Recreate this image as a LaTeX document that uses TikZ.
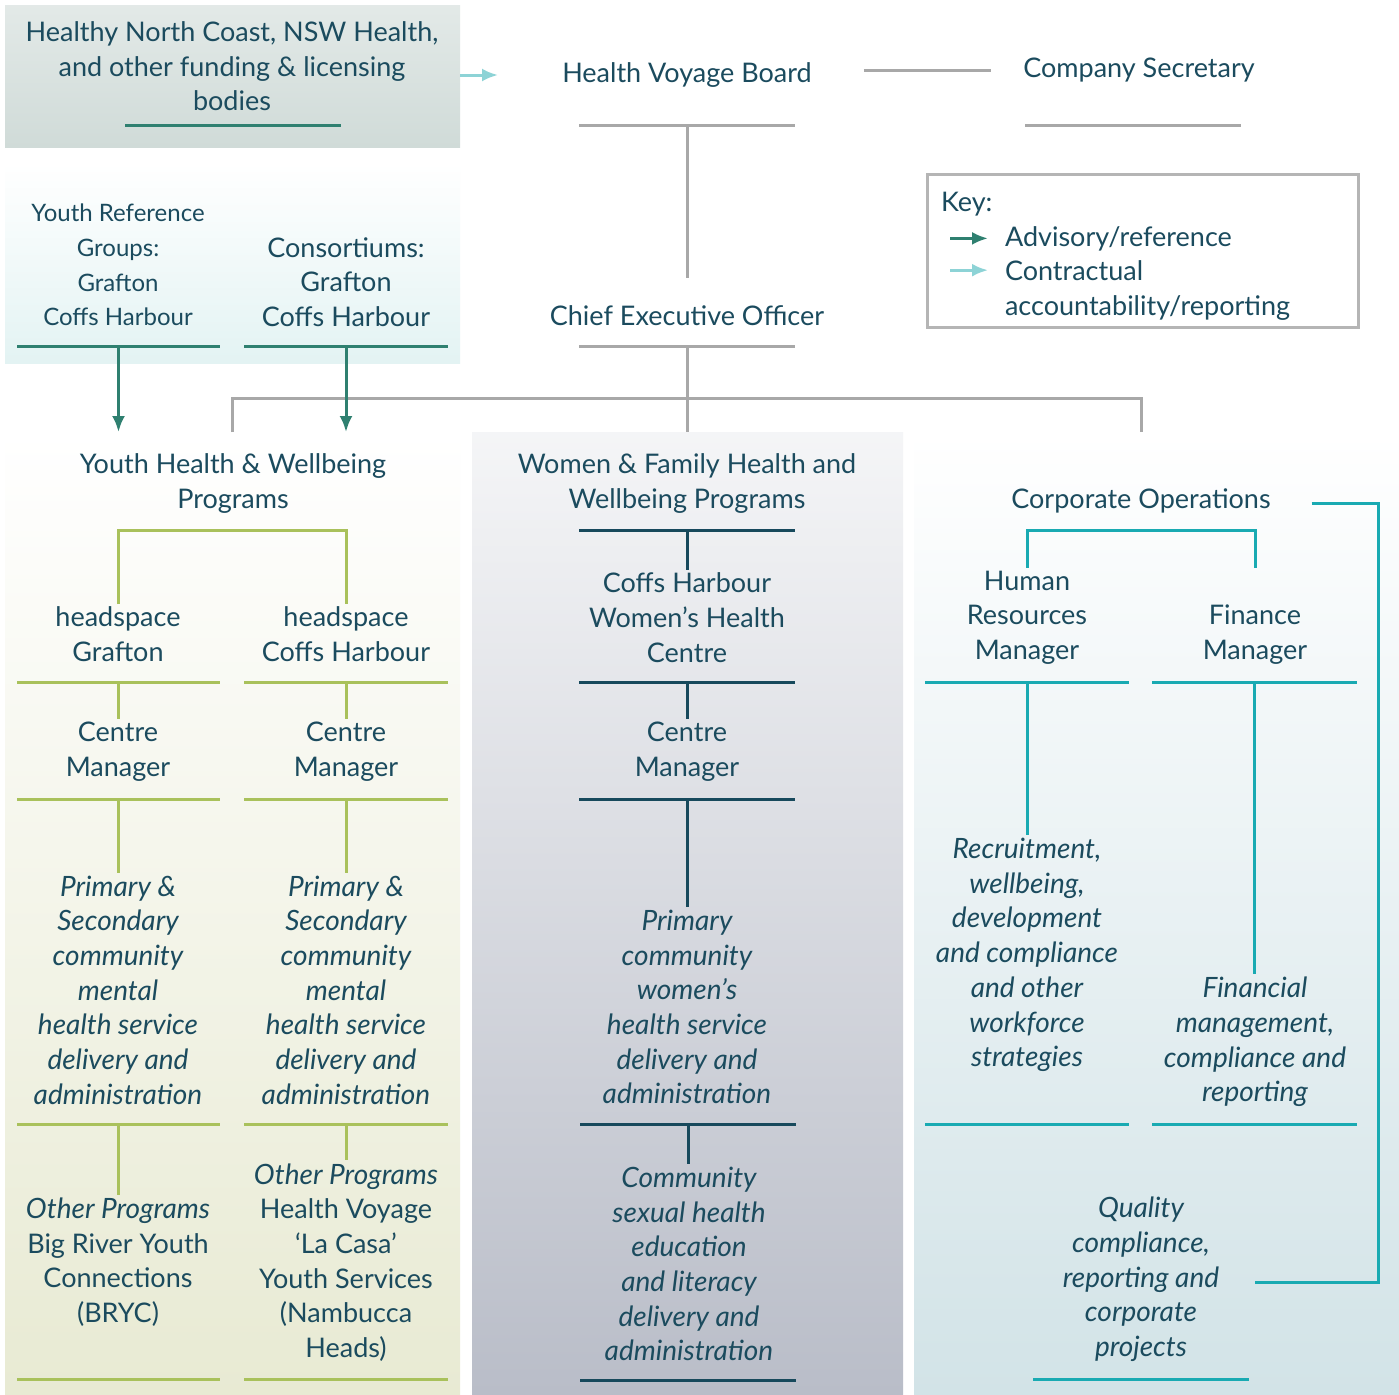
\documentclass[tikz,border=0pt]{standalone}
\usepackage{fontspec}
\setmainfont{Lato}
\usepackage{tikz}
\usetikzlibrary{arrows.meta}

\definecolor{ink}{HTML}{1B4B5E}
\definecolor{advc}{HTML}{2F8070}
\definecolor{conc}{HTML}{8DD3D6}
\definecolor{orgc}{HTML}{A8A8A8}
\definecolor{ythc}{HTML}{A9C15B}
\definecolor{wmnc}{HTML}{17495C}
\definecolor{corpc}{HTML}{19AAB2}
\definecolor{keyc}{HTML}{B5B5B5}
\definecolor{fundbg}{HTML}{D0DBD8}
\definecolor{refbg}{HTML}{E3F3F3}
\definecolor{ythbg}{HTML}{E8EAD3}
\definecolor{wmnbg}{HTML}{B9BDC8}
\definecolor{corpbg}{HTML}{D2E3E7}

\begin{document}
\begin{tikzpicture}[x=0.5pt,y=-0.5pt,
  every node/.style={font=\fontsize{13.5}{17.35}\selectfont, text=ink, align=center, inner sep=1.5pt, outer sep=0pt},
  panel/.style={inner sep=0pt, draw=none},
  small/.style={font=\fontsize{12}{17.35}\selectfont},
  it/.style={font=\fontsize{14}{17.35}\selectfont\itshape},
  rl/.style={line width=1.5pt},
  adv/.style={line width=1.5pt, draw=advc, -{Latex[length=8pt,width=6.5pt]}},
  contr/.style={line width=1.5pt, draw=conc, -{Latex[length=8pt,width=6.5pt]}}]
\useasboundingbox[fill=white] (0,0) rectangle (1399,1394);

% panels
\node[panel, top color=white!40!fundbg, bottom color=fundbg, minimum width=227.5pt, minimum height=71pt] (fundbox) at (232.5,76) {};
\node[panel, top color=white, bottom color=refbg, minimum width=227.5pt, minimum height=100pt] (refbox) at (232.5,263) {};
\node[panel, top color=white, bottom color=ythbg, minimum width=227.5pt, minimum height=481pt] (yprog) at (232.5,913) {};
\node[panel, top color=white!85!wmnbg, bottom color=wmnbg, minimum width=215.5pt, minimum height=481pt] (wprog) at (687.5,913) {};
\node[panel, top color=white, bottom color=corpbg, minimum width=242.5pt, minimum height=481pt] (cprog) at (1156.5,913) {};
\node[draw=keyc, line width=1.5pt, minimum width=215.5pt, minimum height=76.5pt] (keybox) at (1142.5,250.5) {};

% top
\node (fund) at (232,66.3) {Healthy North Coast, NSW Health,\\and other funding \& licensing\\bodies};
\node (hvb) at (687,75) {Health Voyage Board};
\node (cs) at (1139,70) {Company Secretary};
\node (ceo) at (687,316) {Chief Executive Officer};
\node[small] (yrg) at (118,265) {Youth Reference\\Groups:\\Grafton\\Coffs Harbour};
\node (cons) at (346,282) {Consortiums:\\Grafton\\Coffs Harbour};

% key
\node[anchor=base west] (key) at (938,211) {Key:};
\node[anchor=base west] (kadv) at (1002,246) {Advisory/reference};
\node[anchor=base west] (kcon) at (1002,280) {Contractual};
\node[anchor=base west] (kacc) at (1002,315) {accountability/reporting};
\draw[adv] ([xshift=-26pt]kadv.west) -- ([xshift=-7pt]kadv.west);
\draw[contr] ([xshift=-26pt]kcon.west) -- ([xshift=-7pt]kcon.west);

% youth
\node (yhw) at (233,483.5) {Youth Health \& Wellbeing\\Programs};
\node (hsg) at (118,634.5) {headspace\\Grafton};
\node (hsc) at (346,634.5) {headspace\\Coffs Harbour};
\node (ycm1) at (118,751.5) {Centre\\Manager};
\node (ycm2) at (346,751.5) {Centre\\Manager};
\node[it] (ysv1) at (118,990) {Primary \&\\Secondary\\community\\mental\\health service\\delivery and\\administration};
\node[it] (ysv2) at (346,990) {Primary \&\\Secondary\\community\\mental\\health service\\delivery and\\administration};
\node (yop1) at (118,1262) {\textit{\fontsize{14}{17.35}\selectfont Other Programs}\\Big River Youth\\Connections\\(BRYC)};
\node (yop2) at (346,1262.5) {\textit{\fontsize{14}{17.35}\selectfont Other Programs}\\Health Voyage\\‘La Casa’\\Youth Services\\(Nambucca\\Heads)};

% women
\node (wfh) at (687,483.5) {Women \& Family Health and\\Wellbeing Programs};
\node (wch) at (687,617.5) {Coffs Harbour\\Women’s Health\\Centre};
\node (wcm) at (687,751.5) {Centre\\Manager};
\node[it] (wps) at (687,1007) {Primary\\community\\women’s\\health service\\delivery and\\administration};
\node[it] (wsh) at (689,1264) {Community\\sexual health\\education\\and literacy\\delivery and\\administration};

% corporate
\node (cops) at (1141,501) {Corporate Operations};
\node (hrm) at (1027,617.5) {Human\\Resources\\Manager};
\node (fin) at (1255,634.5) {Finance\\Manager};
\node[it] (hrs) at (1027,955) {Recruitment,\\wellbeing,\\development\\and compliance\\and other\\workforce\\strategies};
\node[it] (fms) at (1255,1042) {Financial\\management,\\compliance and\\reporting};
\node[it] (qual) at (1141,1279.5) {Quality\\compliance,\\reporting and\\corporate\\projects};

% rules under the boxes
\foreach \n/\a/\b/\y/\c in {fund/125/341/125/advc, hvb/579/795/125/orgc, cs/1025/1241/125/orgc,
  ceo/579/795/346/orgc, yrg/17/220/346/advc, cons/244/448/346/advc,
  hsg/17/220/682/ythc, hsc/244/448/682/ythc, ycm1/17/220/799/ythc, ycm2/244/448/799/ythc,
  ysv1/17/220/1124/ythc, ysv2/244/448/1124/ythc, yop1/17/220/1379/ythc, yop2/244/448/1379/ythc,
  wfh/579/795/530/wmnc, wch/579/795/682/wmnc, wcm/579/795/799/wmnc, wps/580/796/1124/wmnc, wsh/580/796/1380/wmnc,
  hrm/925/1129/682/corpc, fin/1152/1357/682/corpc, hrs/925/1129/1124/corpc, fms/1152/1357/1124/corpc,
  qual/1033/1249/1379/corpc}
{
  \draw[rl, draw=\c] (\a,\y) -- (\b,\y);
  \coordinate (\n-r) at ({(\a+\b)/2},\y);
}

% connectors
\coordinate (hvb-in) at (498,75);
\draw[contr] (fundbox.east |- hvb-in) -- (hvb-in);
\draw[rl, orgc, shorten <=24.5pt, shorten >=14.5pt] (hvb.east |- cs) -- (cs.west);
\draw[rl, orgc, shorten >=12.5pt] (hvb-r) -- (hvb-r |- ceo.north);
\coordinate (jn) at (687,398);
\draw[rl, orgc] (ceo-r) -- (ceo-r |- wprog.north);
\draw[rl, orgc] (yprog.north) |- (jn) -| (cops |- cprog.north);
\draw[adv] (yrg-r) -- (yrg-r |- yprog.north);
\draw[adv] (cons-r) -- (cons-r |- yprog.north);

\coordinate (yb) at (233,530);
\draw[rl, ythc] (hsg.north) |- (yb) -| (hsc.north);
\coordinate (cb) at (1141,530);
\draw[rl, corpc] (hrm.north) |- (cb) -| (fin.north |- hrm.north);

\foreach \a/\b/\c in {hsg/ycm1/ythc, hsc/ycm2/ythc, ycm1/ysv1/ythc, ycm2/ysv2/ythc,
  ysv1/yop1/ythc, ysv2/yop2/ythc, wfh/wch/wmnc, wch/wcm/wmnc, wcm/wps/wmnc, wps/wsh/wmnc,
  hrm/hrs/corpc, fin/fms/corpc}
  \draw[rl, \c] (\a-r) -- (\a-r |- \b.north);

\coordinate (cr1) at (1378,503);
\coordinate (cr2) at (1378,1282);
\draw[rl, corpc] ([xshift=19pt]cops.east |- cr1) -- (cr1) -- (cr2) -- ([xshift=16.5pt]qual.east |- cr2);
\end{tikzpicture}
\end{document}
